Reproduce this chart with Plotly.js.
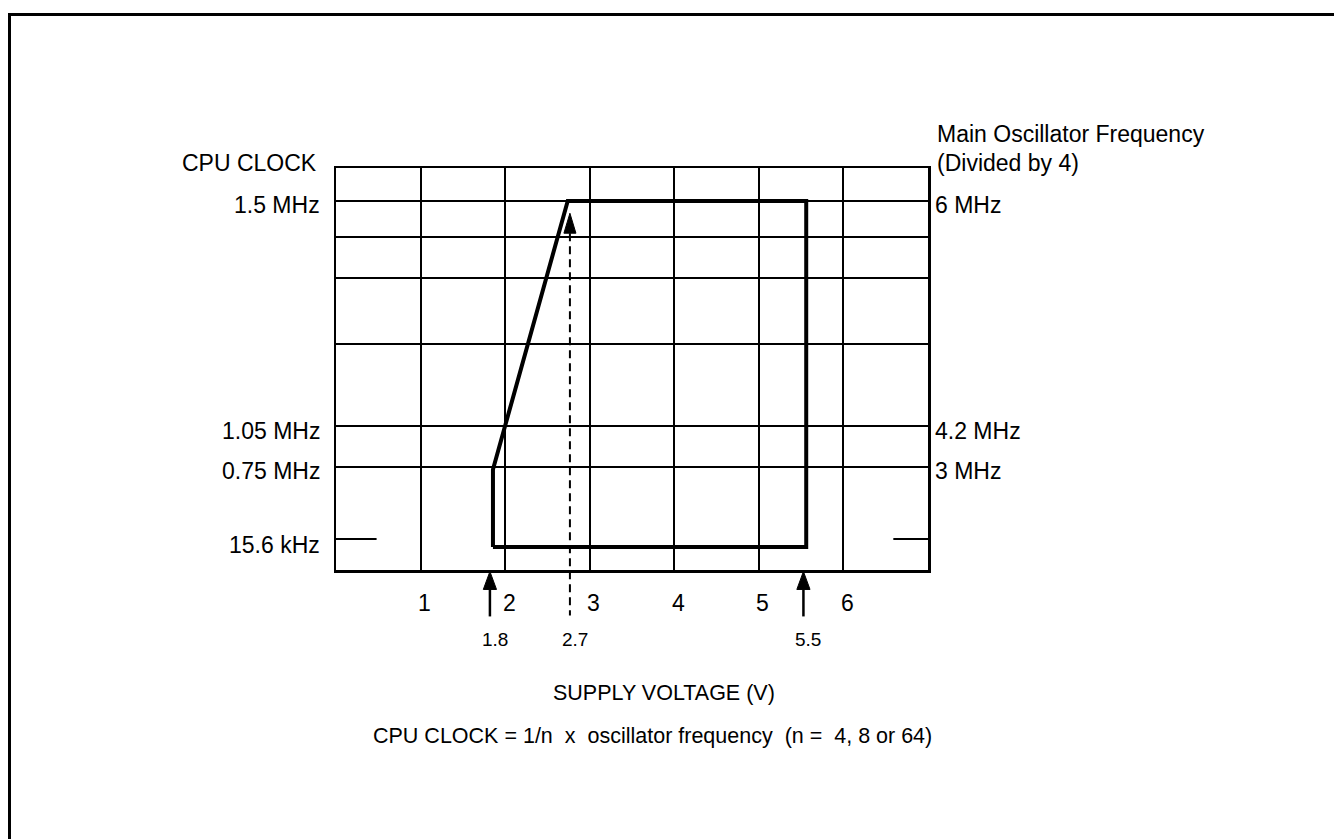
<!DOCTYPE html>
<html>
<head>
<meta charset="utf-8">
<script src="https://cdn.plot.ly/plotly-3.0.1.min.js"></script>
<style>
  html, body { margin: 0; padding: 0; background: #fff; }
  #wrap { position: relative; width: 1334px; height: 839px; overflow: hidden; }
  #chart { position: absolute; left: 0; top: 0; width: 1334px; height: 839px; }
  #frame { position: absolute; left: 8px; top: 13px; width: 1400px; height: 900px;
           border-left: 3px solid #000; border-top: 3px solid #000; pointer-events: none; }
</style>
</head>
<body>
<div id="wrap">
  <div id="chart"></div>
  <div id="frame"></div>
</div>
<script>
// ---- data ----
const voltTicks = [1, 2, 3, 4, 5, 6];
const voltTickText = ['1', '2', '3', '4', '5', '6'];

// vertical position of the schematic frequency levels (0 = bottom of box, 100 = top)
const levelGrid = [91.8, 82.9, 72.7, 56.3, 35.7, 25.7];
const leftLabelLevels = [91.8, 35.7, 25.7, 7.7];
const leftLabels = ['1.5 MHz', '1.05 MHz', '0.75 MHz', '15.6 kHz'];
const rightLabelLevels = [91.8, 35.7, 25.7];
const rightLabels = ['6 MHz', '4.2 MHz', '3 MHz'];
const lowClockLevel = 7.7;
const lowClockStubsV = [[0, 0.48], [6.59, 7]];

// operating envelope (supply voltage vs level)
const envelopeV = [1.856, 1.856, 2.74, 5.56, 5.56, 1.856];
const envelopeLevel = [5.7, 25.0, 91.8, 91.8, 5.7, 5.7];

// voltage markers below the axis
const markerV = [1.82, 2.766, 5.527];
const markerText = ['1.8', '2.7', '5.5'];
const markerDashed = [false, true, false];

// ---- layout helpers ----
const FONT = 'Liberation Sans, Arial, Helvetica, sans-serif';
const big = {family: FONT, size: 23, color: '#000'};
const mid = {family: FONT, size: 21.5, color: '#000'};
const small = {family: FONT, size: 19, color: '#000'};

const annotations = [];
leftLabels.forEach((t, i) => annotations.push({
  text: t, xref: 'paper', x: 0, yref: 'y', y: leftLabelLevels[i],
  xanchor: 'right', yanchor: 'middle', xshift: -14, yshift: i === 3 ? -6 : -4.5,
  showarrow: false, font: big
}));
rightLabels.forEach((t, i) => annotations.push({
  text: t, xref: 'paper', x: 1, yref: 'y', y: rightLabelLevels[i],
  xanchor: 'left', yanchor: 'middle', xshift: 5, yshift: -4.5,
  showarrow: false, font: big
}));
voltTicks.forEach((v, i) => annotations.push({
  text: voltTickText[i], xref: 'x', x: v, yref: 'paper', y: -0.082,
  xanchor: 'center', yanchor: 'middle', xshift: 4, showarrow: false, font: big
}));
markerV.forEach((v, i) => annotations.push({
  text: markerText[i], xref: 'x', x: v, yref: 'paper', y: -0.1727,
  xanchor: 'center', yanchor: 'middle', xshift: 5, showarrow: false, font: small
}));
annotations.push({text: 'CPU CLOCK', xref: 'paper', x: 0, yref: 'paper', y: 1.0124,
  xanchor: 'right', yanchor: 'middle', xshift: -17, showarrow: false, font: big});
annotations.push({text: 'Main Oscillator Frequency', xref: 'paper', x: 1, yref: 'paper', y: 1.0845,
  xanchor: 'left', yanchor: 'middle', xshift: 7, showarrow: false, font: big});
annotations.push({text: '(Divided by 4)', xref: 'paper', x: 1, yref: 'paper', y: 1.0124,
  xanchor: 'left', yanchor: 'middle', xshift: 7, showarrow: false, font: big});
annotations.push({text: 'SUPPLY VOLTAGE (V)', xref: 'paper', x: 0.554, yref: 'paper', y: -0.307,
  xanchor: 'center', yanchor: 'middle', showarrow: false, font: mid});
annotations.push({text: 'CPU CLOCK = 1/n \u00a0x \u00a0oscillator frequency \u00a0(n = \u00a04, 8 or 64)',
  xref: 'paper', x: 0.534, yref: 'paper', y: -0.4137,
  xanchor: 'center', yanchor: 'middle', showarrow: false, font: mid});

const shapes = [];
// short 15.6 kHz stubs
lowClockStubsV.forEach(s => shapes.push({
  type: 'line', xref: 'x', yref: 'y', x0: s[0], x1: s[1], y0: lowClockLevel, y1: lowClockLevel,
  line: {color: '#000', width: 2}
}));
// marker arrows (paper y below/inside the box)
const solid = {tip: -0.0037, base: -0.0484, tail: -0.1155, hw: 0.078};
const dashed = {tip: 0.8875, base: 0.8378, tail: -0.113, hw: 0.071};
markerV.forEach((v, i) => {
  const g = markerDashed[i] ? dashed : solid;
  shapes.push({
    type: 'line', xref: 'x', yref: 'paper', x0: v, x1: v, y0: g.base, y1: g.tail,
    line: {color: '#000', width: markerDashed[i] ? 2 : 2.5, dash: markerDashed[i] ? '8px,5px' : 'solid'}
  });
  shapes.push({
    type: 'path', xref: 'x', yref: 'paper',
    path: `M${v},${g.tip} L${v - g.hw},${g.base} L${v + g.hw},${g.base} Z`,
    fillcolor: '#000', line: {color: '#000', width: 1}
  });
});

const traces = [{
  type: 'scatter', mode: 'lines', x: envelopeV, y: envelopeLevel,
  line: {color: '#000', width: 4}, hoverinfo: 'skip', showlegend: false
}];

const layout = {
  width: 1334, height: 839,
  margin: {l: 336, r: 406, t: 168, b: 268.5, pad: 0},
  paper_bgcolor: '#fff', plot_bgcolor: '#fff',
  showlegend: false,
  xaxis: {
    range: [0, 7], tickvals: voltTicks, showticklabels: false, ticks: '',
    showgrid: true, gridcolor: '#000', gridwidth: 2, zeroline: false,
    showline: true, mirror: true, linecolor: '#000', linewidth: 2.5, fixedrange: true
  },
  yaxis: {
    range: [0, 100], tickvals: levelGrid, showticklabels: false, ticks: '',
    showgrid: true, gridcolor: '#000', gridwidth: 2, zeroline: false,
    showline: true, mirror: true, linecolor: '#000', linewidth: 2.5, fixedrange: true
  },
  annotations: annotations,
  shapes: shapes
};

Plotly.newPlot('chart', traces, layout, {staticPlot: true, displayModeBar: false});
</script>
</body>
</html>
